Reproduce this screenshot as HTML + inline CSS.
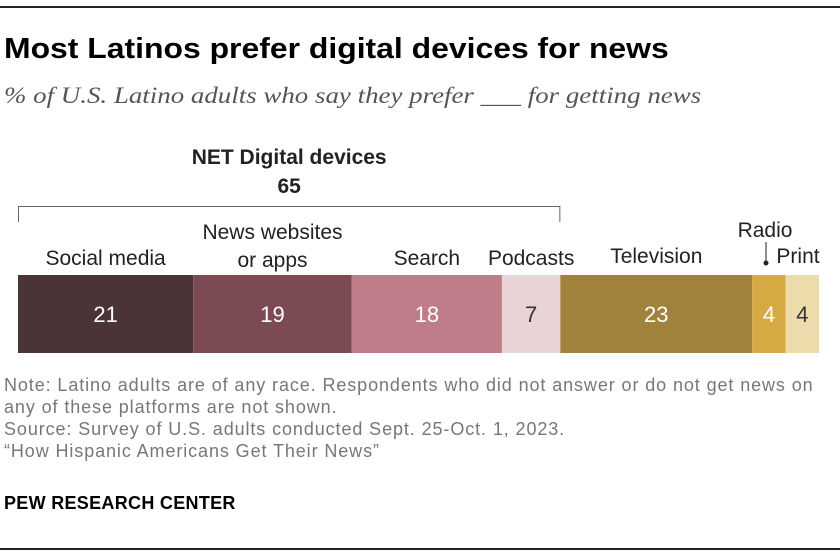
<!DOCTYPE html>
<html><head><meta charset="utf-8"><style>
body{margin:0;background:#fff;font-family:"Liberation Sans",sans-serif;}
#wrap{position:relative;width:840px;height:558px;overflow:hidden;}
.t{position:absolute;white-space:nowrap;}
</style></head><body>
<div id="wrap">
<div style="position:absolute;left:0;top:6px;width:840px;height:2px;background:#222"></div>
<div class="t" style="left:4px;top:33px;font-size:29px;font-weight:bold;color:#000;transform:scaleX(1.1);transform-origin:0 0">Most Latinos prefer digital devices for news</div>
<div class="t" style="left:4px;top:83px;font-size:23px;font-style:italic;font-family:'Liberation Serif',serif;color:#555;transform:scaleX(1.17);transform-origin:0 0">% of U.S. Latino adults who say they prefer ___ for getting news</div>
<svg id="chart" width="840" height="558" style="position:absolute;left:0;top:0"></svg>
<div class="t" style="left:4px;top:374px;font-size:18px;letter-spacing:0.9px;line-height:22px;color:#777;white-space:normal;width:815px">Note: Latino adults are of any race. Respondents who did not answer or do not get news on any of these platforms are not shown.<br>Source: Survey of U.S. adults conducted Sept. 25-Oct. 1, 2023.<br>“How Hispanic Americans Get Their News”</div>
<div class="t" style="left:4px;top:493px;font-size:18px;font-weight:bold;color:#000;letter-spacing:0.3px">PEW RESEARCH CENTER</div>
<div style="position:absolute;left:0;top:548px;width:840px;height:2px;background:#222"></div>
</div>
<script>
const categories=["Social media","News websites|or apps","Search","Podcasts","Television","Radio","Print"];
const values=[21,19,18,7,23,4,4];
const netLabel="NET Digital devices";
const netValue=65;
const colors=["#4a3436","#7b4a52","#be7d88","#e8d4d6","#a0823c","#d6aa42","#ecdcab"];
const textColors=["#fff","#fff","#fff","#333","#fff","#fff","#333"];
const svg=document.getElementById('chart');
const NS="http://www.w3.org/2000/svg";
const x0=18,x1=819,y0=275,h=78;
const total=values.reduce((a,b)=>a+b,0);
const sx=v=>v/total*(x1-x0);
function mk(tag,attrs){const e=document.createElementNS(NS,tag);for(const k in attrs)e.setAttribute(k,attrs[k]);svg.appendChild(e);return e;}
let cum=0;const starts=[];
values.forEach((v,i)=>{
 const x=x0+sx(cum);starts.push(x);const w=sx(v);
 const r=mk('rect',{x:x,y:y0,width:w,height:h,fill:colors[i]});
 
 
 const t=mk('text',{x:x+w/2,y:y0+h/2+8,'text-anchor':'middle','font-size':22,fill:textColors[i],'font-family':'Liberation Sans, sans-serif'});
 t.textContent=values[i];
 
 
 cum+=v;
});
const lblY=[265,239,265,265,263,237,263];
values.forEach((v,i)=>{
 let cx=starts[i]+sx(v)/2;
 const lines=categories[i].split('|');
 if(i===6)cx=798;
 if(i===5)cx=765;
 lines.forEach((ln,j)=>{
  const t=mk('text',{x:cx,y:lblY[i]+j*28,'text-anchor':'middle','font-size':21,fill:'#222','font-family':'Liberation Sans, sans-serif'});
  t.textContent=ln;
  
  
 });
});
const rx=766;
const ld=mk('line',{x1:rx,y1:242,x2:rx,y2:263,stroke:'#222','stroke-width':1});


const dot=mk('circle',{cx:rx,cy:263,r:2.5,fill:'#222'});


const bx2=x0+sx(values[0]+values[1]+values[2]+values[3]);
const br=mk('path',{d:`M${x0+0.5},222 V206.5 H${bx2-0.5} V222`,fill:'none',stroke:'#666','stroke-width':1});


const cxB=(x0+bx2)/2;
const nt=mk('text',{x:cxB,y:164,'text-anchor':'middle','font-size':21,'font-weight':'bold',fill:'#222','font-family':'Liberation Sans, sans-serif'});
nt.textContent=netLabel;


const nv=mk('text',{x:cxB,y:193,'text-anchor':'middle','font-size':21,'font-weight':'bold',fill:'#222','font-family':'Liberation Sans, sans-serif'});
nv.textContent=netValue;


</script>
</body></html>
